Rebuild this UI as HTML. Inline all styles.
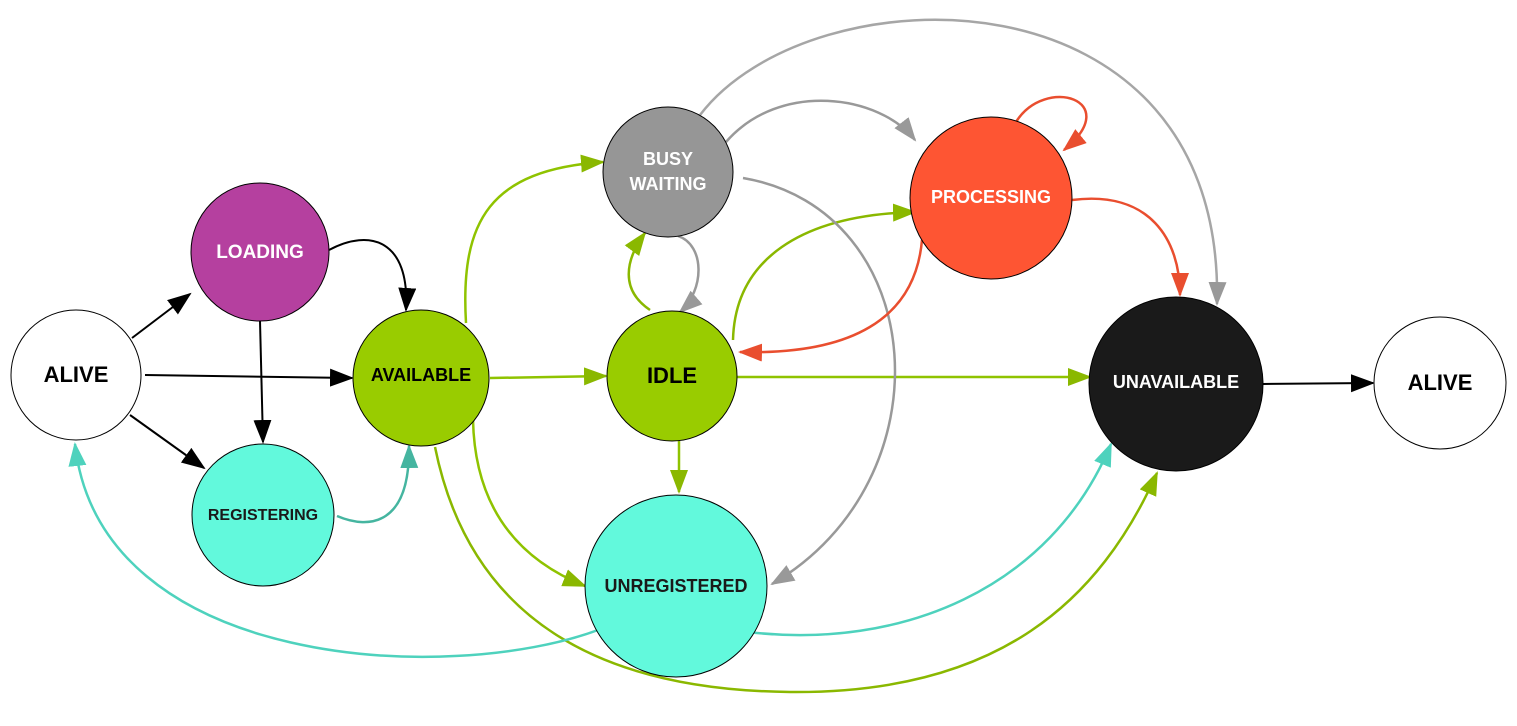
<!DOCTYPE html>
<html><head><meta charset="utf-8"><style>
html,body{margin:0;padding:0;background:#fff;}
svg{display:block}
text{font-family:"Liberation Sans",sans-serif;font-weight:bold;text-anchor:middle;dominant-baseline:middle}
</style></head><body>
<svg width="1517" height="726" viewBox="0 0 1517 726" xmlns="http://www.w3.org/2000/svg">
<defs>
<marker id="k" markerUnits="userSpaceOnUse" markerWidth="26" markerHeight="20" refX="22" refY="9" orient="auto"><path d="M0,0 L24,9 L0,18 z" fill="#000"/></marker>
<marker id="g" markerUnits="userSpaceOnUse" markerWidth="26" markerHeight="20" refX="22" refY="9" orient="auto"><path d="M0,0 L24,9 L0,18 z" fill="#8ab800"/></marker>
<marker id="t" markerUnits="userSpaceOnUse" markerWidth="26" markerHeight="20" refX="22" refY="9" orient="auto"><path d="M0,0 L24,9 L0,18 z" fill="#4ed2bd"/></marker>
<marker id="t2" markerUnits="userSpaceOnUse" markerWidth="26" markerHeight="20" refX="22" refY="9" orient="auto"><path d="M0,0 L24,9 L0,18 z" fill="#45b5a0"/></marker>
<marker id="y" markerUnits="userSpaceOnUse" markerWidth="26" markerHeight="20" refX="22" refY="9" orient="auto"><path d="M0,0 L24,9 L0,18 z" fill="#999"/></marker>
<marker id="r" markerUnits="userSpaceOnUse" markerWidth="26" markerHeight="20" refX="22" refY="9" orient="auto"><path d="M0,0 L24,9 L0,18 z" fill="#e94e2f"/></marker>
</defs>
<g fill="none" stroke-width="2.5">
<path d="M132,338 L190,294" stroke="#000" stroke-width="2" marker-end="url(#k)"/>
<path d="M145,375 L352,378" stroke="#000" stroke-width="2" marker-end="url(#k)"/>
<path d="M130,415 L204,468" stroke="#000" stroke-width="2" marker-end="url(#k)"/>
<path d="M329,250 C370,228 410,240 406,310" stroke="#000" stroke-width="2" marker-end="url(#k)"/>
<path d="M260,321 L263,442" stroke="#000" stroke-width="2" marker-end="url(#k)"/>
<path d="M337,516 C370,530 410,525 409,446" stroke="#45b5a0" marker-end="url(#t2)"/>
<path d="M466,323 C460,220 490,170 603,162" stroke="#8fc300" marker-end="url(#g)"/>
<path d="M490,378 L606,376" stroke="#8fc300" marker-end="url(#g)"/>
<path d="M473,420 C475,510 520,560 585,586" stroke="#8fc300" marker-end="url(#g)"/>
<path d="M435,447 C470,620 600,690 790,692 C1000,694 1100,600 1157,473" stroke="#8ab800" marker-end="url(#g)"/>
<path d="M598,630 C450,685 100,670 75,444" stroke="#4ed2bd" marker-end="url(#t)"/>
<path d="M748,632 C900,650 1050,590 1111,444" stroke="#4ed2bd" marker-end="url(#t)"/>
<path d="M679,441 L679,492" stroke="#8fc300" marker-end="url(#g)"/>
<path d="M737,377 L1090,377" stroke="#8fc300" marker-end="url(#g)"/>
<path d="M650,310 C620,290 625,260 645,233" stroke="#8ab800" marker-end="url(#g)"/>
<path d="M678,236 C705,245 705,290 680,312" stroke="#999" marker-end="url(#y)"/>
<path d="M733,340 C735,260 800,215 915,212" stroke="#8ab800" marker-end="url(#g)"/>
<path d="M726,142 C780,80 880,95 915,140" stroke="#999" marker-end="url(#y)"/>
<path d="M700,115 C810,-30 1225,-40 1217,304" stroke="#a6a6a6" marker-end="url(#y)"/>
<path d="M743,178 C930,210 950,480 772,584" stroke="#999" marker-end="url(#y)"/>
<path d="M1016,122 C1045,75 1125,100 1064,150" stroke="#e94e2f" marker-end="url(#r)"/>
<path d="M1072,200 C1150,190 1180,240 1180,295" stroke="#e94e2f" marker-end="url(#r)"/>
<path d="M922,240 C915,320 850,355 740,352" stroke="#e94e2f" marker-end="url(#r)"/>
<path d="M1263,384 L1373,383" stroke="#000" stroke-width="2" marker-end="url(#k)"/>
</g>
<g stroke="#000" stroke-width="1">
<circle cx="76" cy="375" r="65" fill="#fff"/>
<circle cx="260" cy="252" r="69" fill="#b5409f"/>
<circle cx="263" cy="515" r="71" fill="#62f9dc"/>
<circle cx="421" cy="378" r="68" fill="#99cc00"/>
<circle cx="668" cy="172" r="65" fill="#969696"/>
<circle cx="672" cy="376" r="65" fill="#99cc00"/>
<circle cx="676" cy="586" r="91" fill="#62f9dc"/>
<circle cx="991" cy="198" r="81" fill="#fe5533"/>
<circle cx="1176" cy="384" r="87" fill="#1a1a1a"/>
<circle cx="1440" cy="383" r="66" fill="#fff"/>
</g>
<text x="76" y="376" font-size="22" fill="#000">ALIVE</text>
<text x="260" y="253" font-size="19" fill="#fff">LOADING</text>
<text x="263" y="516" font-size="16" fill="#1a1a1a">REGISTERING</text>
<text x="421" y="376" font-size="18" fill="#000">AVAILABLE</text>
<text x="668" y="160" font-size="18" fill="#fff">BUSY</text>
<text x="668" y="185" font-size="18" fill="#fff">WAITING</text>
<text x="672" y="377" font-size="22" fill="#000">IDLE</text>
<text x="676" y="587" font-size="18" fill="#1a1a1a">UNREGISTERED</text>
<text x="991" y="198" font-size="18" fill="#fff">PROCESSING</text>
<text x="1176" y="383" font-size="18" fill="#fff">UNAVAILABLE</text>
<text x="1440" y="384" font-size="22" fill="#000">ALIVE</text>
</svg>
</body></html>
